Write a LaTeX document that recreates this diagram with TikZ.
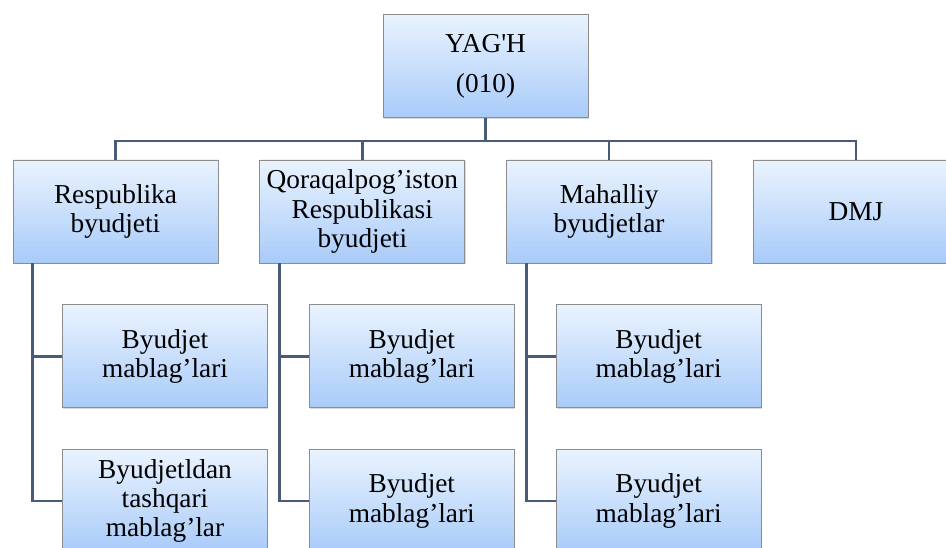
\documentclass[tikz,border=0pt]{standalone}
\usepackage{fontspec}
\newfontfamily\boxfont{Liberation Serif}
\usepackage{tikz}
\usetikzlibrary{positioning, shadows}
\definecolor{boxtop}{RGB}{234,243,254}
\definecolor{boxbottom}{RGB}{168,203,249}
\definecolor{boxline}{RGB}{140,140,140}
\definecolor{linkline}{RGB}{72,92,120}

\begin{document}
\begin{tikzpicture}[x=0.75pt,y=-0.75pt,node distance=30.75pt]
  \tikzstyle{box}=[rectangle, draw=boxline, line width=0.6pt,
    top color=boxtop, bottom color=boxbottom,
    minimum width=153.75pt, minimum height=77.25pt, inner sep=0pt,
    align=center, font=\boxfont\fontsize{20.5}{22}\selectfont,
    drop shadow={opacity=0.3, shadow xshift=0.7pt, shadow yshift=-0.9pt}]
  \tikzstyle{link}=[draw=linkline, line width=2pt]

  \useasboundingbox (0,0) rectangle (946,548);
  \clip (0,0) rectangle (946,548);

  \node[box] (yagh) at (485.5,66)      {YAG'H\\[8pt](010)};
  \node[box] (rb)   at (115.5,211.5)   {Respublika\\byudjeti};
  \node[box] (qrb)  [right=of rb]      {Qoraqalpog’iston\\Respublikasi\\byudjeti};
  \node[box] (mb)   [right=of qrb]     {Mahalliy\\byudjetlar};
  \node[box] (dmj)  [right=of mb]      {DMJ};

  \node[box] (rb_1)  [below=of rb, xshift=37.125pt]  {Byudjet\\mablag’lari};
  \node[box] (rb_2)  [below=of rb_1]                 {Byudjetldan\\tashqari\\mablag’lar};
  \node[box] (qrb_1) [below=of qrb, xshift=37.125pt] {Byudjet\\mablag’lari};
  \node[box] (qrb_2) [below=of qrb_1]                {Byudjet\\mablag’lari};
  \node[box] (mb_1)  [below=of mb, xshift=37.125pt]  {Byudjet\\mablag’lari};
  \node[box] (mb_2)  [below=of mb_1]                 {Byudjet\\mablag’lari};

  \foreach \n in {rb,qrb,mb,dmj}
    \draw[link] (yagh.south) -- ++(0,-17.25pt) -| (\n.north);
  \foreach \n in {rb,qrb,mb}
    \draw[link] ([xshift=15pt]\n.south west) |- (\n_1.west)
                ([xshift=15pt]\n.south west) |- (\n_2.west);
\end{tikzpicture}
\end{document}
